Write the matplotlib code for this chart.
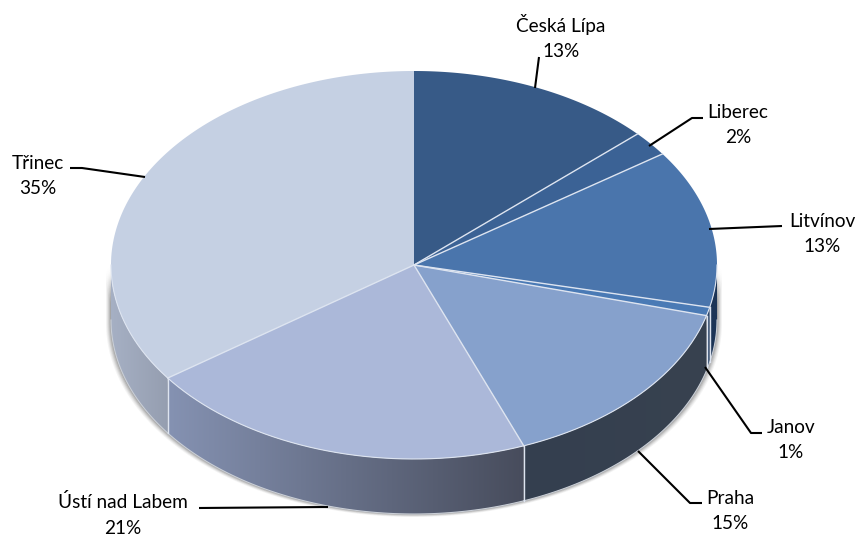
import numpy as np
import matplotlib
matplotlib.use('Agg')
import matplotlib.pyplot as plt
from matplotlib.colors import to_rgb
from matplotlib.patches import Polygon

# Slice data, clockwise from 12 o'clock
regions = ['Česká Lípa', 'Liberec', 'Litvínov', 'Janov', 'Praha', 'Ústí nad Labem', 'Třinec']
shares = [13.2, 2.1, 13.2, 0.7, 14.9, 21.0, 34.9]

top_colors = ['#375a87', '#3b6295', '#4a75ac', '#4a7ab5', '#86a1cc', '#abb8d9', '#c5d0e3']
wall_left = ['#375a87', '#3b6295', '#1d3557', '#2a4468', '#343f50', '#8592b2', '#a6b0c4']
wall_right = ['#375a87', '#3b6295', '#1d3557', '#2a4468', '#38424f', '#474c5c', '#959eb0']

# Leader polylines and label centres, in figure pixels
leaders = [[(535, 88), (539, 57)],
           [(649, 146), (692, 118), (703, 118)],
           [(709, 229), (782, 226)],
           [(705, 367), (751, 433), (762, 433)],
           [(638, 451), (690, 503), (702, 503)],
           [(328, 507), (199, 508)],
           [(145, 177), (82, 168), (70, 168)]]
label_pos = [(561, 37), (738, 125), (822, 234), (791, 440), (730, 511), (123, 515), (38, 176)]

CX, CY, RX, RY, DEPTH = 414, 265, 303, 194, 55
EDGE = '#dde4f0'

plt.rcParams['font.family'] = ['Lato', 'DejaVu Sans']

fig = plt.figure(figsize=(8.6, 5.39), dpi=100, facecolor='white')
ax = fig.add_axes([0, 0, 1, 1])


def rim(angles, drop=0):
    # clock angle in degrees -> point on the ellipse
    a = np.radians(angles)
    return np.column_stack([CX + RX * np.sin(a), CY - RY * np.cos(a) + drop])


# soft shadow round the lower silhouette
front = np.linspace(90, 270, 200)
outline = np.vstack([rim(front[::-1]), rim(front, DEPTH)])
for grow, alpha in [(5, 0.06), (4, 0.08), (3, 0.11), (2, 0.14), (1, 0.18)]:
    shifted = outline.copy()
    shifted[:, 0] = CX + (shifted[:, 0] - CX) * (RX + grow) / RX
    shifted[:, 1] += grow * 0.6
    ax.add_patch(Polygon(shifted, closed=True, fc='#404040', ec='none', alpha=alpha, zorder=1))

edges = 360 * np.cumsum([0] + shares) / sum(shares)

# side walls with a horizontal gradient
for i in range(len(shares)):
    lo, hi = max(edges[i], 90), min(edges[i + 1], 270)
    if hi <= lo:
        continue
    arc = np.linspace(lo, hi, 80)
    poly = np.vstack([rim(arc), rim(arc[::-1], DEPTH)])
    x0, x1 = poly[:, 0].min(), poly[:, 0].max()
    y0, y1 = poly[:, 1].min(), poly[:, 1].max()
    grad = np.linspace(to_rgb(wall_left[i]), to_rgb(wall_right[i]), 256)[np.newaxis, :, :]
    im = ax.imshow(grad, extent=(x0, x1, y1, y0), aspect='auto', zorder=2, interpolation='bilinear')
    patch = Polygon(poly, closed=True, fc='none', ec='none', zorder=2)
    ax.add_patch(patch)
    im.set_clip_path(patch)
    ax.plot(poly[80:, 0], poly[80:, 1], color='#c9ced6', lw=0.8, zorder=3)

# wall seams
for ang in edges[1:-1]:
    if 90 < ang < 270:
        p = rim([ang, ang])
        ax.plot(p[:, 0], p[:, 1] + [0, DEPTH], color=EDGE, lw=1, zorder=3)

# top face
for i in range(len(shares)):
    arc = np.linspace(edges[i], edges[i + 1], 120)
    poly = np.vstack([[CX, CY], rim(arc)])
    ax.add_patch(Polygon(poly, closed=True, fc=top_colors[i], ec='none', zorder=4))
for ang in edges[:-1]:
    p = rim([ang])[0]
    if ang > 0:
        ax.plot([CX, p[0]], [CY, p[1]], color=EDGE, lw=1, zorder=5)
p = rim(np.linspace(90, 270, 200))
ax.plot(p[:, 0], p[:, 1], color=EDGE, lw=0.8, zorder=5)

# leaders and labels
for name, share, line, pos in zip(regions, shares, leaders, label_pos):
    xs, ys = zip(*line)
    ax.plot(xs, ys, color='black', lw=1.5, zorder=6, solid_capstyle='butt')
    ax.text(pos[0], pos[1], f'{name}\n{share:.0f}%', ha='center', va='center',
            fontsize=13.7, linespacing=1.6, color='black', zorder=7)

ax.set_xlim(0, 860)
ax.set_ylim(539, 0)
ax.axis('off')
fig.savefig('out.png', dpi=100, facecolor='white')
plt.close()
